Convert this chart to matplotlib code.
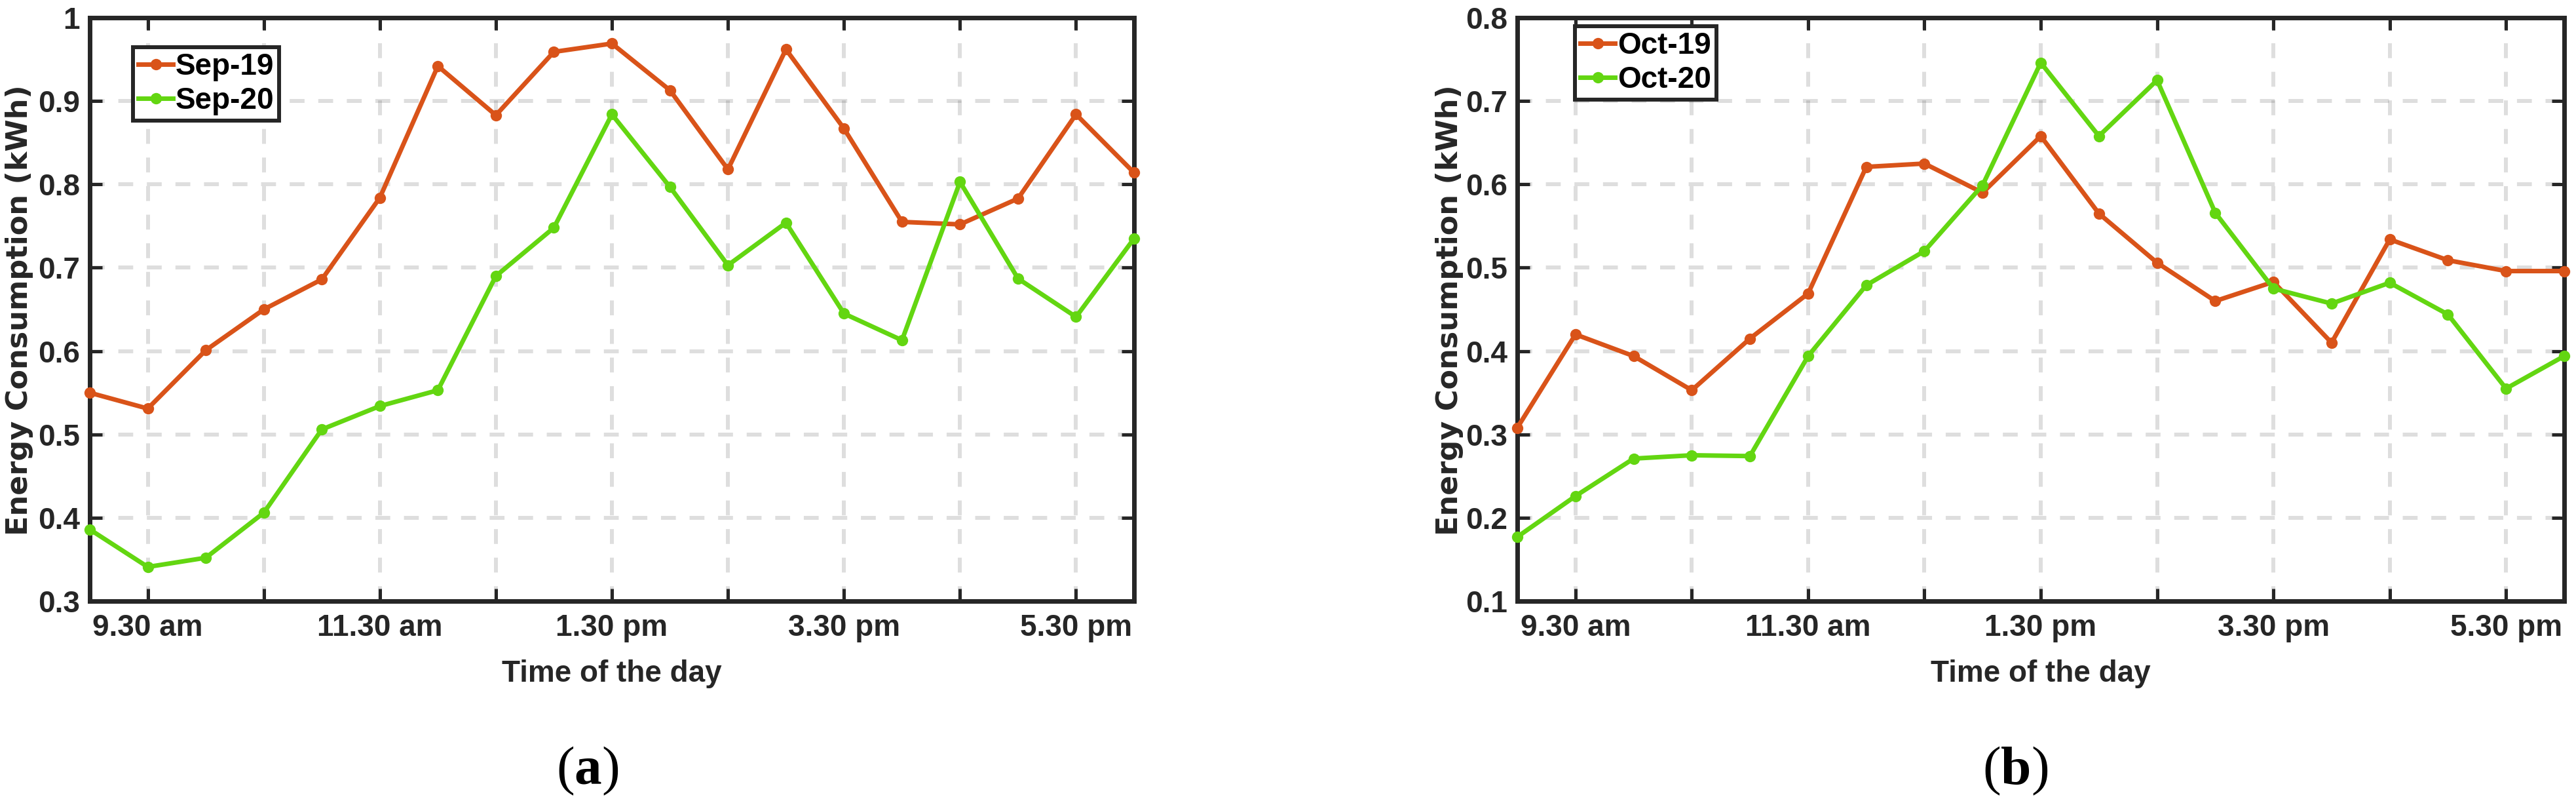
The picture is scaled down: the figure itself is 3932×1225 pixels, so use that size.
import matplotlib
matplotlib.use('Agg')
import matplotlib.pyplot as plt
import numpy as np

# half-hour slots from 9:00 am to 6:00 pm
slots = np.arange(19)
tick_pos = [1, 3, 5, 7, 9, 11, 13, 15, 17]
tick_labels = ['9.30 am', '', '11.30 am', '', '1.30 pm', '', '3.30 pm', '', '5.30 pm']

# panel (a): September
sep19 = [0.550, 0.531, 0.601, 0.650, 0.686, 0.784, 0.942, 0.883, 0.959, 0.969,
         0.913, 0.818, 0.962, 0.867, 0.755, 0.752, 0.783, 0.884, 0.814]
sep20 = [0.386, 0.341, 0.352, 0.406, 0.506, 0.534, 0.553, 0.690, 0.748, 0.884,
         0.797, 0.703, 0.754, 0.645, 0.613, 0.803, 0.687, 0.641, 0.735]
yticks_a = [0.3, 0.4, 0.5, 0.6, 0.7, 0.8, 0.9, 1.0]
ylabels_a = ['0.3', '0.4', '0.5', '0.6', '0.7', '0.8', '0.9', '1']

# panel (b): October
oct19 = [0.308, 0.420, 0.394, 0.353, 0.415, 0.469, 0.621, 0.625, 0.590, 0.658,
         0.565, 0.506, 0.460, 0.483, 0.410, 0.534, 0.509, 0.496, 0.496]
oct20 = [0.177, 0.226, 0.271, 0.275, 0.274, 0.394, 0.479, 0.520, 0.599, 0.746,
         0.658, 0.725, 0.566, 0.475, 0.457, 0.482, 0.444, 0.355, 0.394]
yticks_b = [0.1, 0.2, 0.3, 0.4, 0.5, 0.6, 0.7, 0.8]
ylabels_b = ['0.1', '0.2', '0.3', '0.4', '0.5', '0.6', '0.7', '0.8']

c_old = '#D95319'
c_new = '#63D611'
ink = '#262626'
narrow = ['Liberation Sans Narrow', 'Liberation Sans', 'DejaVu Sans']

# bold letter inside the (a)/(b) captions
plt.rcParams['mathtext.fontset'] = 'custom'
plt.rcParams['mathtext.rm'] = 'Liberation Serif'
plt.rcParams['mathtext.bf'] = 'Liberation Serif:bold'

W, H = 3932, 1225
fig = plt.figure(figsize=(W / 100, H / 100), dpi=100)


def panel(left_px, right_px, s1, s2, names, yt, yl, leg_xy, ylab_x, tag, tag_x):
    top_px, bot_px = 27, 917
    ax = fig.add_axes([left_px / W, 1 - bot_px / H, (right_px - left_px) / W,
                       (bot_px - top_px) / H])
    ax.plot(slots, s1, color=c_old, lw=5, marker='o', ms=12.5, mew=0,
            clip_on=False, zorder=3, label=names[0])
    ax.plot(slots, s2, color=c_new, lw=5, marker='o', ms=12.5, mew=0,
            clip_on=False, zorder=3, label=names[1])
    ax.set_xlim(0, 18)
    ax.set_ylim(yt[0], yt[-1])
    ax.set_xticks(tick_pos)
    ax.set_xticklabels(tick_labels)
    ax.set_yticks(yt)
    ax.set_yticklabels(yl)
    for lab in ax.get_xticklabels() + ax.get_yticklabels():
        lab.set_fontfamily(narrow)
        lab.set_fontweight('bold')
        lab.set_fontsize(33)
        lab.set_color(ink)
    ax.tick_params(direction='in', top=True, right=True, length=14, width=3.6,
                   color=ink)
    ax.tick_params(axis='x', pad=14)
    ax.tick_params(axis='y', pad=11)
    for sp in ax.spines.values():
        sp.set_linewidth(5)
        sp.set_color(ink)
    ax.grid(True, color=ink, alpha=0.15, lw=4.3, linestyle=(0, (3.8, 3.5)))
    ax.set_axisbelow(True)

    ax.set_xlabel('Time of the day', fontfamily=narrow, fontweight='bold',
                  fontsize=33, color=ink, va='center')
    ax.xaxis.set_label_coords(0.5, -(1028 - bot_px) / (bot_px - top_px))

    fig.text(ylab_x / W, 1 - 473 / H, 'Energy Consumption (kWh)', rotation=90,
             ha='center', va='center', fontfamily='DejaVu Sans',
             fontweight='bold', fontsize=32, color=ink)

    leg = ax.legend(loc='upper left', bbox_to_anchor=leg_xy, borderaxespad=0,
                    prop={'family': narrow, 'weight': 'bold', 'size': 33},
                    handlelength=1.15, handletextpad=0.08, borderpad=0.18,
                    labelspacing=0.17, fancybox=False, framealpha=1,
                    edgecolor=ink)
    leg.get_frame().set_linewidth(4.3)

    fig.text(tag_x / W, 1 - 1176 / H, '(' + r'$\mathbf{' + tag + '}$' + ')',
             ha='center', va='center', fontfamily='Liberation Serif', fontsize=60)
    return ax


panel(137, 1731, sep19, sep20, ['Sep-19', 'Sep-20'], yticks_a, ylabels_a,
      (0.0414, 0.9494), 30, 'a', 897)
panel(2316, 3914, oct19, oct20, ['Oct-19', 'Oct-20'], yticks_b, ylabels_b,
      (0.0551, 0.9854), 2212, 'b', 3076)

fig.savefig('out.png', dpi=100)
